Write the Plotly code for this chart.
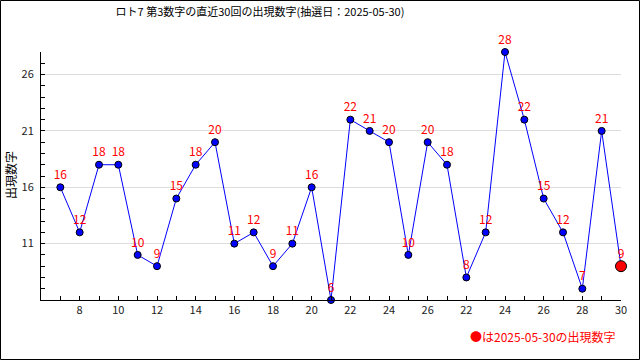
import plotly.graph_objects as go

draws = list(range(1, 31))
values = [16, 12, 18, 18, 10, 9, 15, 18, 20, 11, 12, 9, 11, 16, 6,
          22, 21, 20, 10, 20, 18, 8, 12, 28, 22, 15, 12, 7, 21, 9]
tick_positions = list(range(2, 31, 2))
tick_labels = ["8", "10", "12", "14", "16", "18", "20", "22", "24", "26",
               "22", "24", "26", "28", "30"]
y_ticks = [11, 16, 21, 26]
title_text = "ロト7 第3数字の直近30回の出現数字(抽選日：2025-05-30)"
y_title = "出現数字"
legend_text = "●は2025-05-30の出現数字"

W, H = 640, 360
L, R, T, B = 41, 19, 52, 60
PW, PH = W - L - R, H - T - B
FONT = "Noto Sans CJK JP"

fig = go.Figure()
fig.add_trace(go.Scatter(
    x=draws, y=values, mode="lines+markers+text",
    line=dict(color="#0000ff", width=1),
    marker=dict(color="#0000ff", size=7, line=dict(color="black", width=1)),
    text=[str(v) for v in values], textposition="top center",
    textfont=dict(color="#ff0000", size=12, family=FONT),
    cliponaxis=False, hoverinfo="skip", showlegend=False,
))
fig.add_trace(go.Scatter(
    x=draws[-1:], y=values[-1:], mode="markers",
    marker=dict(color="#ff0000", size=11, line=dict(color="black", width=1)),
    cliponaxis=False, hoverinfo="skip", showlegend=False,
))

fig.update_layout(
    width=W, height=H,
    margin=dict(l=L, r=R, t=T, b=B, autoexpand=False),
    paper_bgcolor="white", plot_bgcolor="white",
    font=dict(family=FONT, size=11, color="#222222"),
    title=dict(text=title_text, x=260 / W, xanchor="center", y=1 - 12 / H,
               yanchor="middle", font=dict(size=11, color="black", family=FONT)),
    xaxis=dict(
        range=[0, 30], showgrid=False, zeroline=False, automargin=False,
        showline=True, linecolor="black", linewidth=1,
        tickmode="array", tickvals=tick_positions, ticktext=tick_labels,
        ticks="inside", ticklen=4, tickcolor="black",
        minor=dict(tickmode="array", tickvals=draws, ticks="inside", ticklen=4,
                   tickcolor="black", showgrid=False),
        tickfont=dict(size=11, color="#222222"),
    ),
    yaxis=dict(
        range=[6, 28], zeroline=False, automargin=False,
        showline=True, linecolor="black", linewidth=1,
        tickmode="array", tickvals=y_ticks,
        showgrid=True, gridcolor="#dddddd", gridwidth=1,
        ticks="inside", ticklen=4, tickcolor="black",
        minor=dict(dtick=1, tick0=6, ticks="inside", ticklen=4,
                   tickcolor="black", showgrid=False),
        tickfont=dict(size=11, color="#222222"),
        ticklabelstandoff=4,
    ),
    annotations=[
        dict(text=legend_text, xref="paper", yref="paper",
             x=(618 - L) / PW, y=(T + PH - 336) / PH, xanchor="right", yanchor="middle",
             showarrow=False, font=dict(size=12, color="#ff0000", family=FONT)),
        dict(text=y_title, xref="paper", yref="paper",
             x=(10 - L) / PW, y=(T + PH - 175) / PH, xanchor="center", yanchor="middle",
             textangle=-90, showarrow=False, font=dict(size=12, color="black", family=FONT)),
    ],
    shapes=[dict(
        type="rect", xref="paper", yref="paper",
        x0=(-L + 0.5) / PW, x1=(W - L - 0.5) / PW,
        y0=(-B + 0.5) / PH, y1=(H - B - 0.5) / PH,
        line=dict(color="black", width=1), fillcolor="rgba(0,0,0,0)",
        layer="above",
    )],
)

fig.write_html("out.html", config={"displayModeBar": False},
               post_script="document.body.style.margin='0';document.body.style.overflow='hidden';")
